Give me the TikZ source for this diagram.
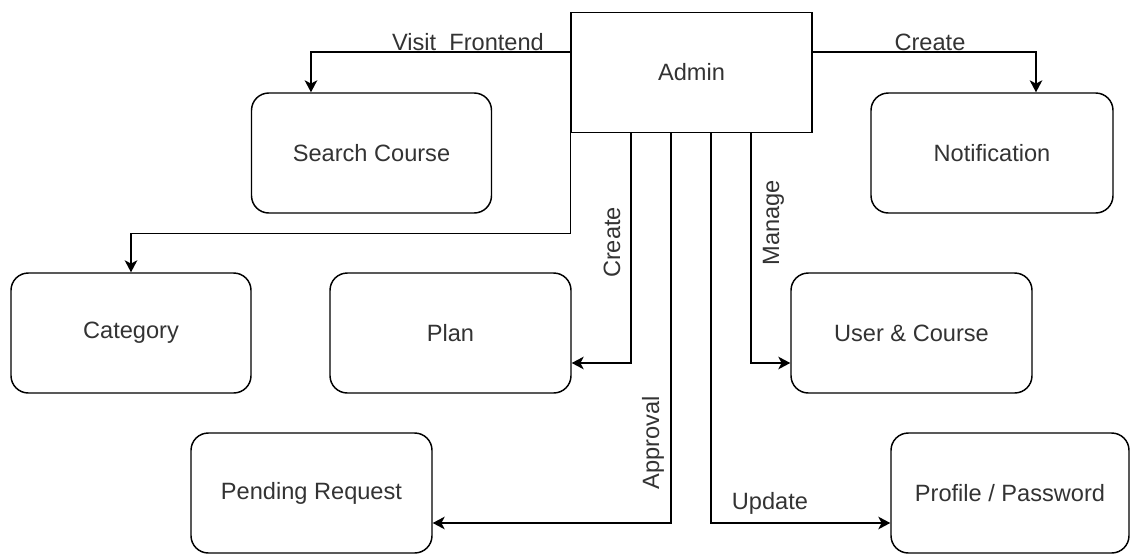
\documentclass[tikz,border=0pt]{standalone}
\usepackage{fontspec}
\setmainfont{Liberation Sans}
\usetikzlibrary{arrows.meta,calc}
\definecolor{txt}{HTML}{333333}
\begin{document}
\begin{tikzpicture}[x=0.75pt,y=-0.75pt,
  lbl/.style={font=\fontsize{17.7pt}{21pt}\selectfont, text=txt},
  box/.style={lbl, draw=black, line width=1.1pt, rounded corners=13pt,
    minimum width=180pt, minimum height=90pt, inner sep=0pt, align=center},
  adminbox/.style={lbl, draw=black, line width=1.1pt,
    minimum width=180.75pt, minimum height=90pt, inner sep=0pt},
  conn/.style={draw=black, line width=1.1pt,
    -{Stealth[length=9pt,width=9.5pt,inset=2.5pt]}},
  lab/.style={lbl, inner sep=0pt, anchor=base}]
\useasboundingbox (0,0) rectangle (1131,554);
\node[adminbox] (admin) at (691.5,72.5) {Admin};
\node[box] (search) at (371.5,153) {Search Course};
\node[box, minimum width=181.5pt] (notif) at (992,153) {Notification};
\node[box] (cat) at (131,333) {Category};
\node[box, minimum width=180.75pt] (plan) at (450.5,333) {Plan};
\node[box, minimum width=180.75pt] (user) at (911.5,333) {User \& Course};
\node[box, minimum width=180.75pt] (pend) at (311.5,493) {Pending Request};
\node[box, minimum width=178.5pt] (prof) at (1010,493) {Profile / Password};

\coordinate (cbend) at ($(admin.south west)+(0,100.5)$);

\draw[conn] ([yshift=15.4pt]admin.west) -| ([xshift=-45.4pt]search.north);
\draw[conn] ([yshift=15.4pt]admin.east) -| ([xshift=33pt]notif.north);
\draw[conn] (admin.south west) -- (cbend) -| (cat.north);
\draw[conn] ([xshift=-45.4pt]admin.south) |- ([yshift=-22.5pt]plan.east);
\draw[conn] ([xshift=-15.4pt]admin.south) |- ([yshift=-22.5pt]pend.east);
\draw[conn] ([xshift=14.6pt]admin.south) |- ([yshift=-22.5pt]prof.west);
\draw[conn] ([xshift=44.6pt]admin.south) |- ([yshift=-22.5pt]user.west);

\node[lab] (lvisit) at (468,50) {Visit\ \ Frontend};
\node[lab] (lcreatea) at (930,50) {Create};
\node[lab, rotate=90] (lcreateb) at (620,242.5) {Create};
\node[lab, rotate=90] (lmanage) at (779,222.5) {Manage};
\node[lab, rotate=90] (lappr) at (659,442.5) {Approval};
\node[lab] (lupd) at (770,509) {Update};
\end{tikzpicture}
\end{document}
